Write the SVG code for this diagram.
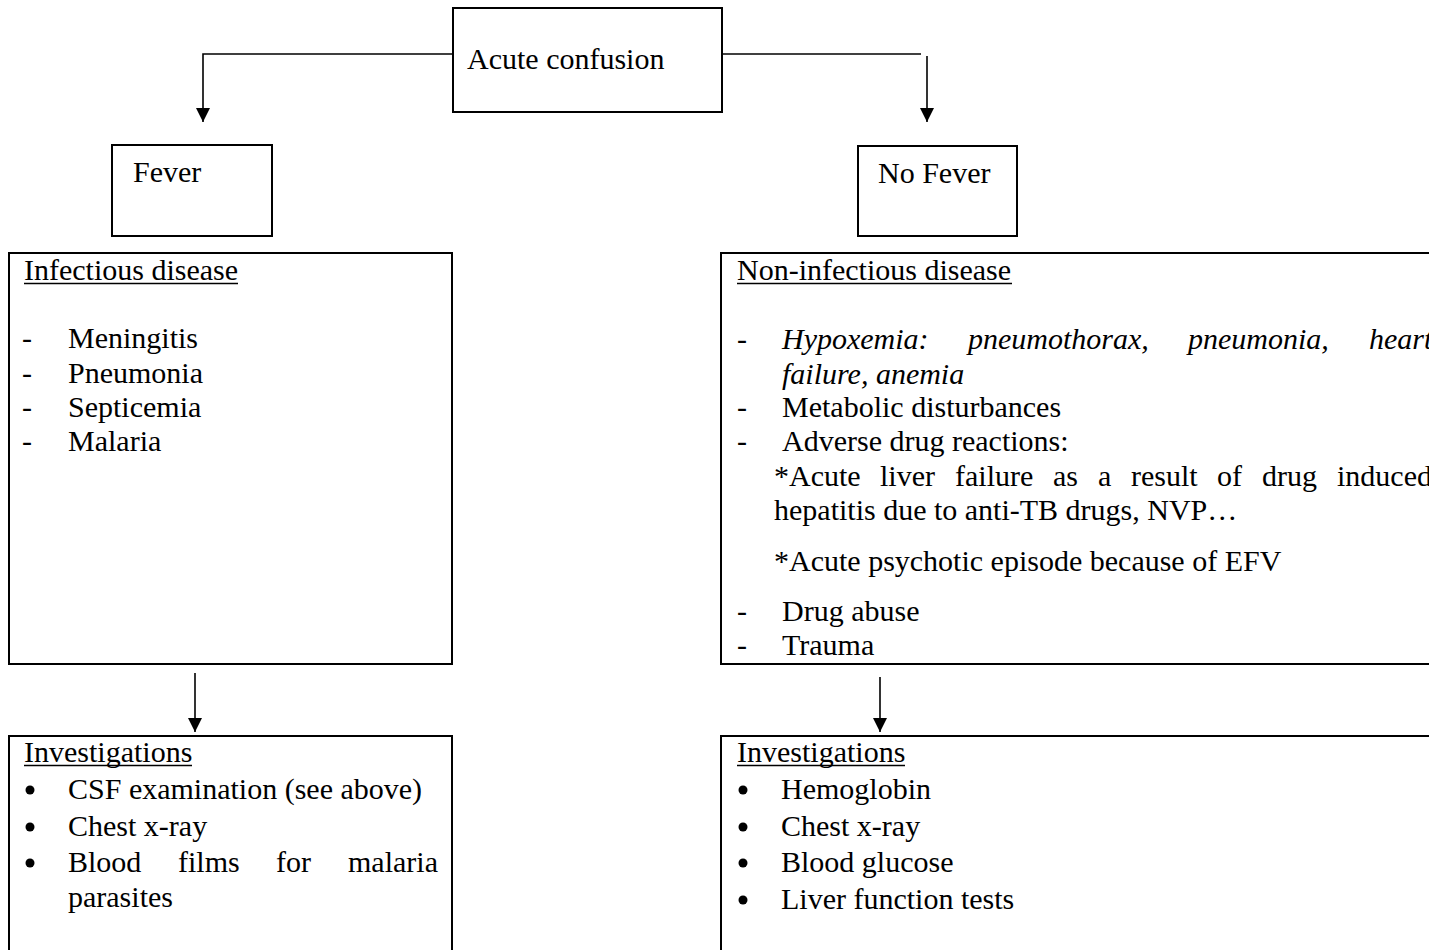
<svg xmlns="http://www.w3.org/2000/svg" width="1429" height="950" viewBox="0 0 1429 950">
  <style>
    .box { fill: #ffffff; stroke: #000000; stroke-width: 2; }
    .wire { fill: none; stroke: #000000; stroke-width: 1.6; }
    .t { font-family: "Liberation Serif", "Times New Roman", serif; font-size: 30px; fill: #000000; }
    .it { font-style: italic; }
    .ul { stroke: #000000; stroke-width: 1.5; }
  </style>
  <defs>
    <marker id="arrow" markerUnits="userSpaceOnUse" markerWidth="14" markerHeight="16" refX="14" refY="7" orient="auto">
      <path d="M0,0 L14,7 L0,14 z" fill="#000000"/>
    </marker>
  </defs>
  <rect width="1429" height="950" fill="#ffffff"/>

  <!-- connectors -->
  <g id="connectors">
    <polyline class="wire" points="453,54 203,54 203,122" marker-end="url(#arrow)"/>
    <line class="wire" x1="722" y1="54" x2="921" y2="54"/>
    <line class="wire" x1="927" y1="56" x2="927" y2="122" marker-end="url(#arrow)"/>
    <line class="wire" x1="195" y1="673" x2="195" y2="732" marker-end="url(#arrow)"/>
    <line class="wire" x1="880" y1="677" x2="880" y2="732" marker-end="url(#arrow)"/>
  </g>

  <g id="acute-confusion">
    <rect class="box" x="453" y="8" width="269" height="104"/>
    <text class="t" x="467" y="69">Acute confusion</text>
  </g>

  <g id="fever">
    <rect class="box" x="112" y="145" width="160" height="91"/>
    <text class="t" x="133" y="182">Fever</text>
  </g>

  <g id="no-fever">
    <rect class="box" x="858" y="146" width="159" height="90"/>
    <text class="t" x="878" y="183">No Fever</text>
  </g>

  <g id="infectious">
    <rect class="box" x="9" y="253" width="443" height="411"/>
    <text class="t" x="24" y="280">Infectious disease</text>
    <line class="ul" x1="24" y1="283.5" x2="238" y2="283.5"/>
    <text class="t" x="22" y="348">-</text><text class="t" x="68" y="348">Meningitis</text>
    <text class="t" x="22" y="383">-</text><text class="t" x="68" y="383">Pneumonia</text>
    <text class="t" x="22" y="417">-</text><text class="t" x="68" y="417">Septicemia</text>
    <text class="t" x="22" y="451">-</text><text class="t" x="68" y="451">Malaria</text>
  </g>

  <g id="non-infectious">
    <rect class="box" x="721" y="253" width="740" height="411"/>
    <text class="t" x="737" y="280">Non-infectious disease</text>
    <line class="ul" x1="737" y1="283.5" x2="1012" y2="283.5"/>
    <!-- justified line: words placed one by one -->
    <text class="t" x="737" y="349">-</text>
    <text class="t it" x="782" y="349">Hypoxemia:</text>
    <text class="t it" x="968" y="349">pneumothorax,</text>
    <text class="t it" x="1188" y="349">pneumonia,</text>
    <text class="t it" x="1369" y="349">heart</text>
    <text class="t it" x="782" y="384">failure, anemia</text>
    <text class="t" x="737" y="417">-</text><text class="t" x="782" y="417">Metabolic disturbances</text>
    <text class="t" x="737" y="451">-</text><text class="t" x="782" y="451">Adverse drug reactions:</text>
    <text class="t" x="774" y="486">*Acute</text>
    <text class="t" x="880" y="486">liver</text>
    <text class="t" x="955" y="486">failure</text>
    <text class="t" x="1053" y="486">as</text>
    <text class="t" x="1098" y="486">a</text>
    <text class="t" x="1131" y="486">result</text>
    <text class="t" x="1217" y="486">of</text>
    <text class="t" x="1262" y="486">drug</text>
    <text class="t" x="1337" y="486">induced</text>
    <text class="t" x="774" y="520">hepatitis due to anti-TB drugs, NVP…</text>
    <text class="t" x="774" y="571">*Acute psychotic episode because of EFV</text>
    <text class="t" x="737" y="621">-</text><text class="t" x="782" y="621">Drug abuse</text>
    <text class="t" x="737" y="655">-</text><text class="t" x="782" y="655">Trauma</text>
  </g>

  <g id="investigations-fever">
    <rect class="box" x="9" y="736" width="443" height="240"/>
    <text class="t" x="24" y="762">Investigations</text>
    <line class="ul" x1="24" y1="765.5" x2="192" y2="765.5"/>
    <circle cx="30" cy="790" r="4.5"/><text class="t" x="68" y="799">CSF examination (see above)</text>
    <circle cx="30" cy="827" r="4.5"/><text class="t" x="68" y="836">Chest x-ray</text>
    <circle cx="30" cy="863" r="4.5"/>
    <text class="t" x="68" y="872">Blood</text>
    <text class="t" x="178" y="872">films</text>
    <text class="t" x="276" y="872">for</text>
    <text class="t" x="348" y="872">malaria</text>
    <text class="t" x="68" y="907">parasites</text>
  </g>

  <g id="investigations-no-fever">
    <rect class="box" x="721" y="736" width="740" height="240"/>
    <text class="t" x="737" y="762">Investigations</text>
    <line class="ul" x1="737" y1="765.5" x2="905" y2="765.5"/>
    <circle cx="743" cy="790" r="4.5"/><text class="t" x="781" y="799">Hemoglobin</text>
    <circle cx="743" cy="827" r="4.5"/><text class="t" x="781" y="836">Chest x-ray</text>
    <circle cx="743" cy="863" r="4.5"/><text class="t" x="781" y="872">Blood glucose</text>
    <circle cx="743" cy="900" r="4.5"/><text class="t" x="781" y="909">Liver function tests</text>
  </g>
</svg>
